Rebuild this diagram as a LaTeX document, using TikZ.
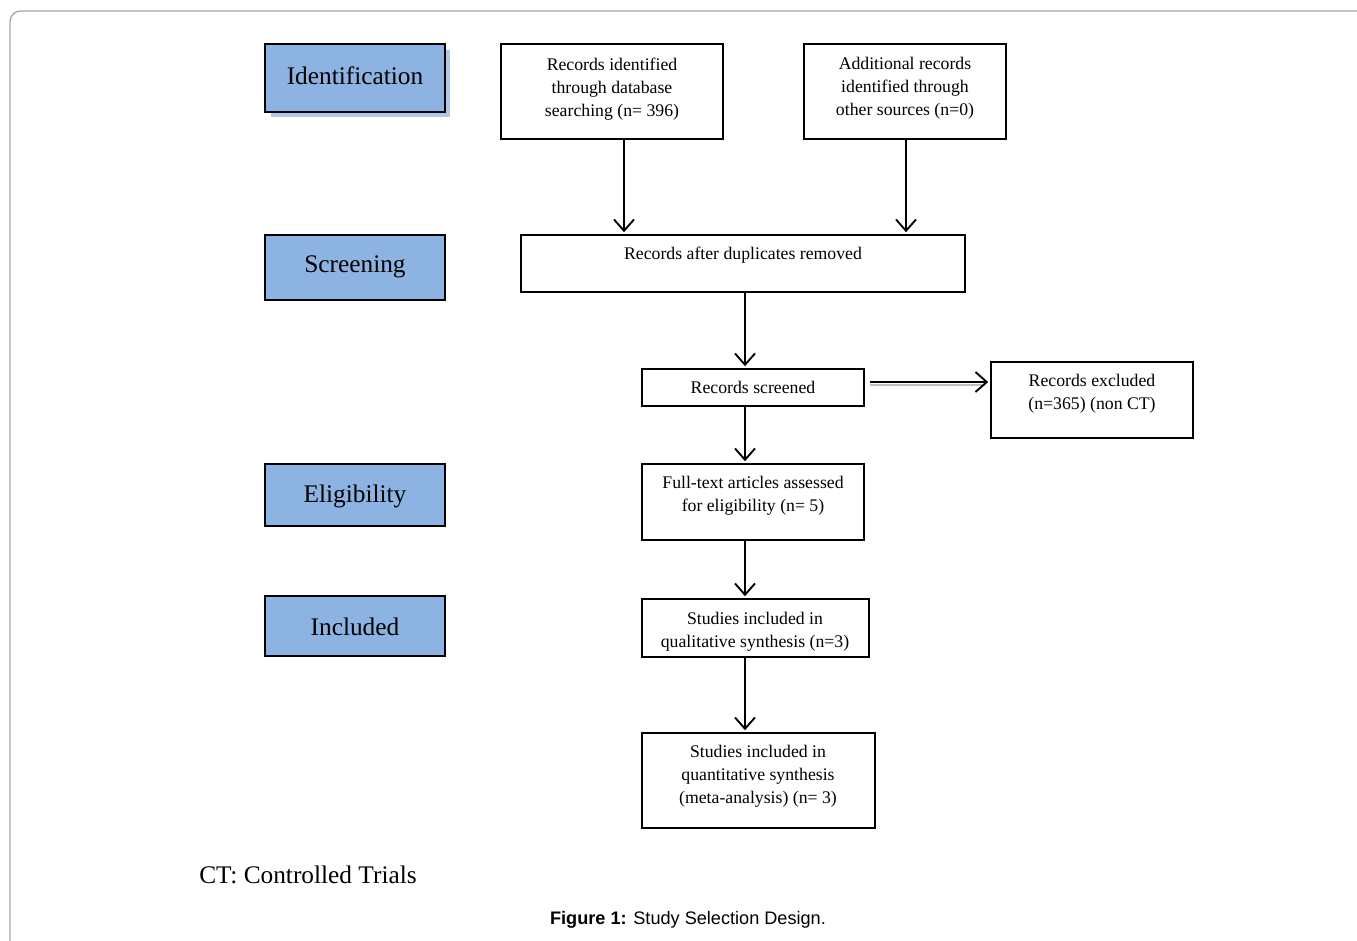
\documentclass[tikz,border=0pt]{standalone}
\usepackage{fontspec}
\setmainfont{Liberation Serif}
\newfontfamily\capfont{Liberation Sans}
\usetikzlibrary{arrows.meta,fit}
\definecolor{stageblue}{HTML}{8DB3E2}
\definecolor{stageshadow}{HTML}{B2C7E5}
\definecolor{framegray}{HTML}{A8A8A8}
\tikzset{
  box/.style={draw=black, line width=1.2pt, inner sep=0pt, fill=white},
  stagebox/.style={draw=black, line width=1.2pt, inner sep=0pt, fill=stageblue},
  txt/.style={inner sep=0pt, align=center, font=\fontsize{13.3}{17.25}\selectfont},
  stagetxt/.style={inner sep=0pt, font=\fontsize{19}{22}\selectfont},
  arr/.style={line width=1.4pt, -{Straight Barb[length=8.5pt,width=15pt,line width=1.4pt]}},
}
\begin{document}
\begin{tikzpicture}[x=0.75pt,y=-0.75pt]
\useasboundingbox (0,0) rectangle (1357,940);
% outer frame
\draw[framegray, line width=1pt, rounded corners=8pt] (1380,11) -- (10,11) -- (10,960);

% stage boxes
\fill[stageshadow] (271,50) rectangle (450,117);
\node[stagebox, fit={(265,44) (445,112)}] (sid) {};
\node[stagetxt] at (355,76) {Identification};
\node[stagebox, fit={(265,235) (445,300)}] (sscr) {};
\node[stagetxt] at (355,267) {Screening};
\node[stagebox, fit={(265,464) (445,526)}] (selig) {};
\node[stagetxt] at (355,496) {Eligibility};
\node[stagebox, fit={(265,596) (445,656)}] (sinc) {};
\node[stagetxt] at (355,627) {Included};

% flow boxes
\node[box, fit={(501,44) (723,139)}] (rid) {};
\node[txt] at (612,89) {Records identified\\through database\\searching (n= 396)};
\node[box, fit={(804,44) (1006,139)}] (add) {};
\node[txt] at (905,88) {Additional records\\identified through\\other sources (n=0)};
\node[box, fit={(521,235) (965,292)}] (dup) {};
\node[txt] at (743,255) {Records after duplicates removed};
\node[box, fit={(642,369) (864,406)}] (scr) {};
\node[txt] at (753,387) {Records screened};
\node[box, fit={(991,362) (1193,438)}] (exc) {};
\node[txt] at (1092,394) {Records excluded\\(n=365) (non CT)};
\node[box, fit={(642,464) (864,540)}] (full) {};
\node[txt] at (753,496) {Full-text articles assessed\\for eligibility (n= 5)};
\node[box, fit={(642,599) (869,657)}] (qual) {};
\node[txt] at (755,632) {Studies included in\\qualitative synthesis (n=3)};
\node[box, fit={(642,733) (875,828)}] (quant) {};
\node[txt] at (758,776) {Studies included in\\quantitative synthesis\\(meta-analysis) (n= 3)};

% connectors
\coordinate (xa) at (624,0);
\coordinate (xb) at (906,0);
\coordinate (xc) at (745,0);
\draw[arr] (xa |- rid.south) -- ([yshift=1.5pt]xa |- dup.north);
\draw[arr] (xb |- add.south) -- ([yshift=1.5pt]xb |- dup.north);
\draw[arr] (xc |- dup.south) -- ([yshift=1.5pt]xc |- scr.north);
\draw[arr] (xc |- scr.south) -- ([yshift=1.5pt]xc |- full.north);
\draw[arr] (xc |- full.south) -- ([yshift=1.5pt]xc |- qual.north);
\draw[arr] (xc |- qual.south) -- ([yshift=1.5pt]xc |- quant.north);
\coordinate (hy) at (0,382);
\draw[line width=1.4pt, black!25] ([xshift=4pt,yshift=-2pt]hy -| scr.east) -- ([xshift=-4pt,yshift=-2pt]hy -| exc.west);
\draw[arr] ([xshift=4pt]hy -| scr.east) -- ([xshift=-1.5pt]hy -| exc.west);

% notes
\node[stagetxt, anchor=west] (note) at (199,875) {CT: Controlled Trials};
\node[inner sep=0pt, font=\capfont\fontsize{13.6}{16}\selectfont] (cap) at (688,920) {\textbf{Figure 1:} Study Selection Design.};
\end{tikzpicture}
\end{document}
